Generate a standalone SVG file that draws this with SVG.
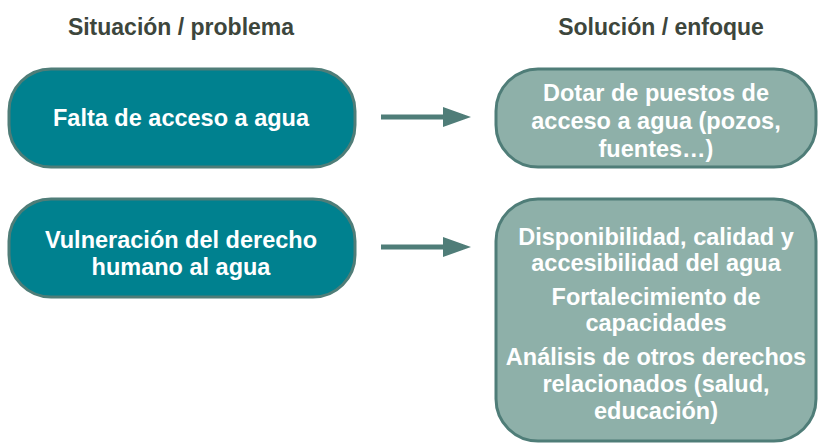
<svg xmlns="http://www.w3.org/2000/svg" width="818" height="443" viewBox="0 0 818 443">
<style>
.hdr{font-family:"Liberation Sans",Arial,sans-serif;font-weight:bold;font-size:23px;fill:#3d463c;text-anchor:middle}
.lbox{fill:#00818f;stroke:#4f7d78;stroke-width:3}
.rbox{fill:#8eb0a9;stroke:#4f7d78;stroke-width:3}
.t{font-family:"Liberation Sans",Arial,sans-serif;font-weight:bold;font-size:23.5px;fill:#ffffff;text-anchor:middle}
.arr{fill:#4f7d78}
</style>
<text class="hdr" x="181" y="35">Situación / problema</text>
<text class="hdr" x="661" y="35">Solución / enfoque</text>
<g id="n1">
<rect class="lbox" x="9" y="69" width="346" height="98" rx="42"/>
<text class="t" x="181" y="126">Falta de acceso a agua</text>
</g>
<g id="n2">
<rect class="lbox" x="9" y="199" width="346" height="98" rx="42"/>
<text class="t" x="181" y="248">Vulneración del derecho</text>
<text class="t" x="181" y="275">humano al agua</text>
</g>
<g id="n3">
<rect class="rbox" x="496" y="69" width="320" height="98" rx="42"/>
<text class="t" x="656" y="101">Dotar de puestos de</text>
<text class="t" x="656" y="129">acceso a agua (pozos,</text>
<text class="t" x="656" y="157">fuentes…)</text>
</g>
<g id="n4">
<rect class="rbox" x="496" y="199" width="320" height="242" rx="42"/>
<text class="t" x="656" y="245">Disponibilidad, calidad y</text>
<text class="t" x="656" y="271">accesibilidad del agua</text>
<text class="t" x="656" y="305">Fortalecimiento de</text>
<text class="t" x="656" y="331">capacidades</text>
<text class="t" x="656" y="365">Análisis de otros derechos</text>
<text class="t" x="656" y="392">relacionados (salud,</text>
<text class="t" x="656" y="419">educación)</text>
</g>
<g id="connectors">
<polygon class="arr" points="381,114.5 443,114.5 443,107 471,117 443,127 443,119.5 381,119.5"/>
<polygon class="arr" points="381,244.5 443,244.5 443,237 471,247 443,257 443,249.5 381,249.5"/>
</g>
</svg>
